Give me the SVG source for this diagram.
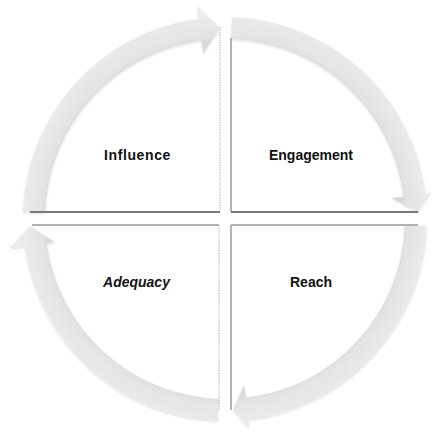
<svg xmlns="http://www.w3.org/2000/svg" width="433" height="432" viewBox="0 0 433 432">
<defs>
<radialGradient id="band" gradientUnits="userSpaceOnUse" cx="225" cy="219" r="216">
<stop offset="0.82" stop-color="#d9d9d9"/>
<stop offset="0.85" stop-color="#e4e4e4"/>
<stop offset="1" stop-color="#efefef"/>
</radialGradient>
<filter id="sh" x="-10%" y="-10%" width="120%" height="120%">
<feDropShadow dx="0" dy="1" stdDeviation="1.2" flood-color="#000" flood-opacity="0.15"/>
</filter>
</defs>
<style>
.arrow{fill:url(#band);filter:url(#sh)}
.edge{stroke:#7a7a7a;stroke-width:2;fill:none}
.edge2{stroke:#9a9a9a;stroke-width:1.5;fill:none}
.soft{stroke:#b5b5b5;stroke-width:1;stroke-dasharray:1.5 1;fill:none}
.lbl{font-family:"Liberation Sans",Arial,sans-serif;font-weight:bold;font-size:14px;fill:#111111;text-anchor:middle}
</style>
<rect width="433" height="432" fill="#ffffff"/>
<g id="connectors">
<path class="arrow" d="M23.12,211.95 A202,202 0 0 1 198.63,18.73 L196.94,5.84 L220,28.07 L203.2,53.43 L201.5,40.54 A180,180 0 0 0 45.11,212.72 Z"/>
<path class="arrow" d="M232.05,17.12 A202,202 0 0 1 425.41,193.68 L430.37,193.06 L417.9,212.3 L391.67,197.94 L403.58,196.44 A180,180 0 0 0 231.28,39.11 Z"/>
<path class="arrow" d="M426.88,226.05 A202,202 0 0 1 248.22,419.66 L249.25,428.6 L233,409.83 L244.19,384.89 L245.69,397.81 A180,180 0 0 0 404.89,225.28 Z"/>
<path class="arrow" d="M217.95,420.88 A202,202 0 0 1 24.87,246.42 L9.02,248.59 L30.1,225.8 L54.59,242.34 L46.66,243.43 A180,180 0 0 0 218.72,398.89 Z"/>
</g>
<g id="influence">
<line class="soft" x1="220" y1="27" x2="220" y2="212"/>
<line class="edge" x1="30" y1="212" x2="220" y2="212"/>
<text class="lbl" x="137.5" y="160" letter-spacing="0.6">Influence</text>
</g>
<g id="engagement">
<line class="edge2" x1="231" y1="38" x2="231" y2="212"/>
<line class="edge" x1="231" y1="212" x2="418" y2="212"/>
<text class="lbl" x="311" y="160">Engagement</text>
</g>
<g id="adequacy">
<line class="edge2" x1="32" y1="225" x2="219" y2="225"/>
<line class="soft" x1="219" y1="225" x2="219" y2="410"/>
<text class="lbl" x="136.5" y="287" font-style="italic">Adequacy</text>
</g>
<g id="reach">
<line class="edge2" x1="231" y1="225" x2="418" y2="225"/>
<line class="edge2" x1="231" y1="225" x2="231" y2="410"/>
<text class="lbl" x="311" y="287">Reach</text>
</g>
</svg>
